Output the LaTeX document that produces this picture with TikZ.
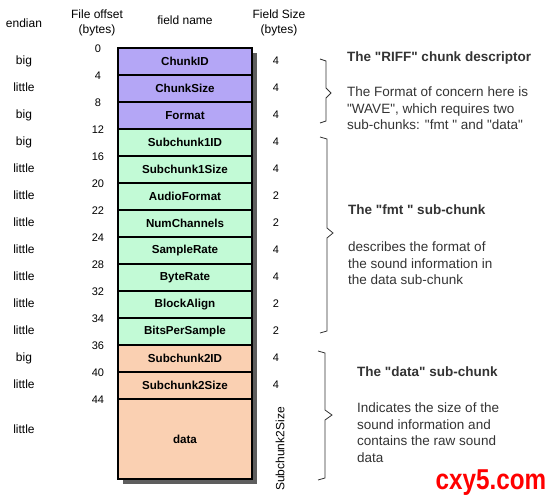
\documentclass[tikz,border=0pt]{standalone}
\usepackage{fontspec}
\setmainfont[Ligatures=TeXOff]{Liberation Sans}
\definecolor{riffpurple}{HTML}{B4A6F6}
\definecolor{fmtgreen}{HTML}{C2FAD6}
\definecolor{datapeach}{HTML}{FAD0B2}
\definecolor{shadowgray}{HTML}{5E5E5E}
\definecolor{darkgray}{HTML}{333333}
\tikzset{
  field/.style={draw=black,line width=1.2pt,minimum width=134pt,minimum height=27pt,
    inner sep=0pt,font=\bfseries\fontsize{11.6}{13}\selectfont},
  colhead/.style={inner sep=0pt,font=\fontsize{12}{15}\selectfont,align=center},
  rowtext/.style={inner sep=0pt,font=\fontsize{12}{14}\selectfont},
  numtext/.style={inner sep=0pt,font=\fontsize{11}{13}\selectfont},
  desc/.style={inner sep=0pt,text=darkgray,align=left,anchor=north west,
    font=\fontsize{13.5}{16.5}\selectfont},
  bracepen/.style={darkgray,line width=0.8pt},
}
\begin{document}
\begin{tikzpicture}[x=1pt,y=-1pt]
  \useasboundingbox (0,0) rectangle (553,500);
  % column heads
  \node[colhead] (hend) at (24,23) {endian};
  \node[colhead] (hoff) at (97,23) {File offset\\(bytes)};
  \node[colhead] (hname) at (185,20) {field name};
  \node[colhead] (hsize) at (279,23) {Field Size\\(bytes)};
  % shadow of the table
  \fill[shadowgray] (123,53) rectangle (257,484);
  % the header fields
  \foreach \name/\off/\size/\side/\col [count=\i from 0] in {
      ChunkID/0/4/big/riffpurple, ChunkSize/4/4/little/riffpurple,
      Format/8/4/big/riffpurple, Subchunk1ID/12/4/big/fmtgreen,
      Subchunk1Size/16/4/little/fmtgreen, AudioFormat/20/2/little/fmtgreen,
      NumChannels/22/2/little/fmtgreen, SampleRate/24/4/little/fmtgreen,
      ByteRate/28/4/little/fmtgreen, BlockAlign/32/2/little/fmtgreen,
      BitsPerSample/34/2/little/fmtgreen, Subchunk2ID/36/4/big/datapeach,
      Subchunk2Size/40/4/little/datapeach} {
    \pgfmathsetmacro\rowtop{48+27*\i}
    \node[field,fill=\col] (f\i) at (185,{\rowtop+13.5}) {\name};
    \node[numtext] (o\i) at (98,{\rowtop+1}) {\off};
    \node[rowtext,anchor=mid] (e\i) at (24,{\rowtop+13.5}) {\side};
    \node[numtext,anchor=mid] (s\i) at (276,{\rowtop+13.5}) {\size};
  }
  \node[field,fill=datapeach,minimum height=80pt] (f13) at (185,439) {data};
  \node[numtext] (o13) at (98,400) {44};
  \node[rowtext,anchor=mid] (e13) at (24,431) {little};
  \node[rowtext,rotate=90] (s13) at (280,449) {Subchunk2Size};
  % braces
  \draw[bracepen] (320,59) -- (326,61) -- (326,88) -- (331,93) -- (326,98)
    -- (326,121) -- (320,123);
  \draw[bracepen] (320,137) -- (327,139) -- (327,228) -- (333,233) -- (327,238)
    -- (327,331) -- (320,333);
  \draw[bracepen] (318,351) -- (325,353) -- (325,410) -- (332,415) -- (325,420)
    -- (325,478) -- (318,480);
  % descriptions
  \node[desc] (riffhead) at (347,52) {\bfseries The "RIFF" chunk descriptor};
  \node[desc] (riffbody) at (347,87) {The Format of concern here is\\"WAVE", which requires two\\sub-chunks: "fmt " and "data"};
  \node[desc] (fmthead) at (348,205) {\bfseries The "fmt " sub-chunk};
  \node[desc] (fmtbody) at (348,242) {describes the format of\\the sound information in\\the data sub-chunk};
  \node[desc] (datahead) at (357,367) {\bfseries The "data" sub-chunk};
  \node[desc] (databody) at (357,403) {Indicates the size of the\\sound information and\\contains the raw sound\\data};
  \node[inner sep=0pt,anchor=base,text=red,yscale=1.15,xscale=0.97,
    font=\bfseries\fontsize{25}{25}\selectfont] (mark) at (491,489) {cxy5.com};
\end{tikzpicture}
\end{document}
